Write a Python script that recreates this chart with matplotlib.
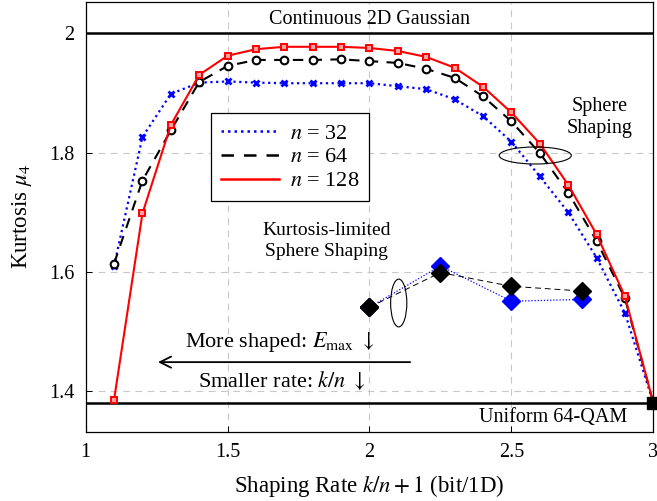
import matplotlib
matplotlib.use("Agg")
import matplotlib.pyplot as plt
from matplotlib.lines import Line2D
from matplotlib.patches import Ellipse

plt.rcParams['font.family'] = ['Liberation Serif', 'DejaVu Serif']
plt.rcParams['mathtext.fontset'] = 'stix'

rate = [1.1, 1.2, 1.3, 1.4, 1.5, 1.6, 1.7, 1.8, 1.9, 2.0,
        2.1, 2.2, 2.3, 2.4, 2.5, 2.6, 2.7, 2.8, 2.9, 3.0]
k32 = [1.610, 1.826, 1.898, 1.917, 1.919, 1.917, 1.916, 1.916, 1.916, 1.916,
       1.911, 1.906, 1.889, 1.861, 1.818, 1.760, 1.700, 1.624, 1.531, 1.381]
k64 = [1.614, 1.753, 1.837, 1.918, 1.945, 1.955, 1.955, 1.955, 1.956, 1.953,
       1.950, 1.940, 1.925, 1.894, 1.852, 1.799, 1.733, 1.652, 1.556, 1.381]
k128 = [1.386, 1.698, 1.846, 1.930, 1.962, 1.973, 1.977, 1.977, 1.977, 1.975,
        1.970, 1.960, 1.942, 1.910, 1.867, 1.815, 1.746, 1.663, 1.559, 1.381]

kl_rate = [2.0, 2.25, 2.5, 2.75]
kl_black = [1.541, 1.599, 1.576, 1.568]
kl_blue = [1.541, 1.610, 1.551, 1.554]

gauss = 2.0
uniform = 1.381

fig = plt.figure(figsize=(6.57, 5.01), dpi=100)
ax = fig.add_axes([0.1304, 0.1377, 0.864, 0.8583])

ax.set_xlim(1, 3)
ax.set_ylim(1.332, 2.052)
ax.set_xticks([1, 1.5, 2, 2.5, 3])
ax.set_xticklabels(['1', '1.5', '2', '2.5', '3'])
ax.set_yticks([1.4, 1.6, 1.8, 2.0])
ax.set_yticklabels(['1.4', '1.6', '1.8', '2'])
ax.grid(True, color='#c8c8c8', linestyle=(0, (6, 5)), linewidth=0.8)
ax.tick_params(labelsize=14.5, direction='in', length=4, width=0.7, color='black',
               pad=8)
for s in ax.spines.values():
    s.set_linewidth(0.9)

ax.axhline(gauss, color='black', lw=1.8, zorder=3)
ax.axhline(uniform, color='black', lw=1.8, zorder=3)

ax.plot(rate, k32, color='blue', ls=(0, (1, 1.6)), lw=1.6, marker='x',
        ms=4.5, mew=2, zorder=4)
ax.plot(rate, k64, color='black', ls=(0, (5, 4)), lw=1.5, marker='o',
        ms=5.5, mfc='white', mec='black', mew=1.5, zorder=5)
ax.plot(rate, k128, color='red', ls='-', lw=1.5, marker='s',
        ms=5, mfc='#f3a3a3', mec='red', mew=1.4, zorder=6)

ax.plot(kl_rate, kl_black, color='black', ls=(0, (6, 4)), lw=0.7,
        marker='D', ms=9, mfc='black', mec='black', zorder=5)
ax.plot(kl_rate, kl_blue, color='blue', ls=(0, (1, 1.5)), lw=0.9,
        marker='D', ms=9, mfc='blue', mec='blue', zorder=4)
ax.plot(kl_rate[:1], kl_black[:1], ls='none', marker='D', ms=9,
        mfc='black', mec='black', zorder=6)

ax.plot([3.0], [uniform], marker='s', ms=8, color='black', ls='none',
        zorder=7, clip_on=False)

fs = 14.5
ax.text(2.0, 2.022, 'Continuous 2D Gaussian', ha='center', va='center', fontsize=fs)
ax.text(2.647, 1.357, 'Uniform 64-QAM', ha='center', va='center', fontsize=fs)
ax.text(2.81, 1.859, 'Sphere\nShaping', ha='center', va='center', fontsize=fs,
        linespacing=1.25)
ax.text(1.85, 1.652, 'Kurtosis-limited\nSphere Shaping', ha='center',
        va='center', fontsize=14, linespacing=1.25)

ax.add_patch(Ellipse((2.584, 1.795), 0.254, 0.0285, fill=False,
                     ec='black', lw=0.8, zorder=8))
ax.add_patch(Ellipse((2.103, 1.548), 0.057, 0.080, fill=False,
                     ec='black', lw=0.8, zorder=8))

ax.annotate('', xy=(1.245, 1.449), xytext=(2.153, 1.449),
            arrowprops=dict(arrowstyle='->', lw=1.3, color='black',
                            mutation_scale=20))
ax.text(1.685, 1.482, r'More shaped: $E_{\mathrm{max}}$ $\downarrow$',
        ha='center', va='center', fontsize=16)
ax.text(1.69, 1.419, r'Smaller rate: $k/n$ $\downarrow$',
        ha='center', va='center', fontsize=16)

ax.set_xlabel(r'Shaping Rate $k/n+1$ (bit/1D)', fontsize=16.5, labelpad=8)
ax.set_ylabel(r'Kurtosis $\mu_4$', fontsize=16.5, labelpad=11)

handles = [
    Line2D([], [], color='blue', ls=(0, (1, 1.6)), lw=1.8),
    Line2D([], [], color='black', ls=(0, (5, 4)), lw=1.8),
    Line2D([], [], color='red', ls='-', lw=1.8),
]
labels = [r'$n$ = 32', r'$n$ = 64', r'$n$ = 128']
leg = ax.legend(handles, labels, loc='upper left', bbox_to_anchor=(0.221, 0.742),
                fontsize=16, frameon=True, fancybox=False, edgecolor='black',
                framealpha=1, handlelength=2.6, handletextpad=0.5,
                labelspacing=0.15, borderpad=0.45, borderaxespad=0)
leg.get_frame().set_linewidth(0.9)

fig.savefig('out.png', dpi=100)
